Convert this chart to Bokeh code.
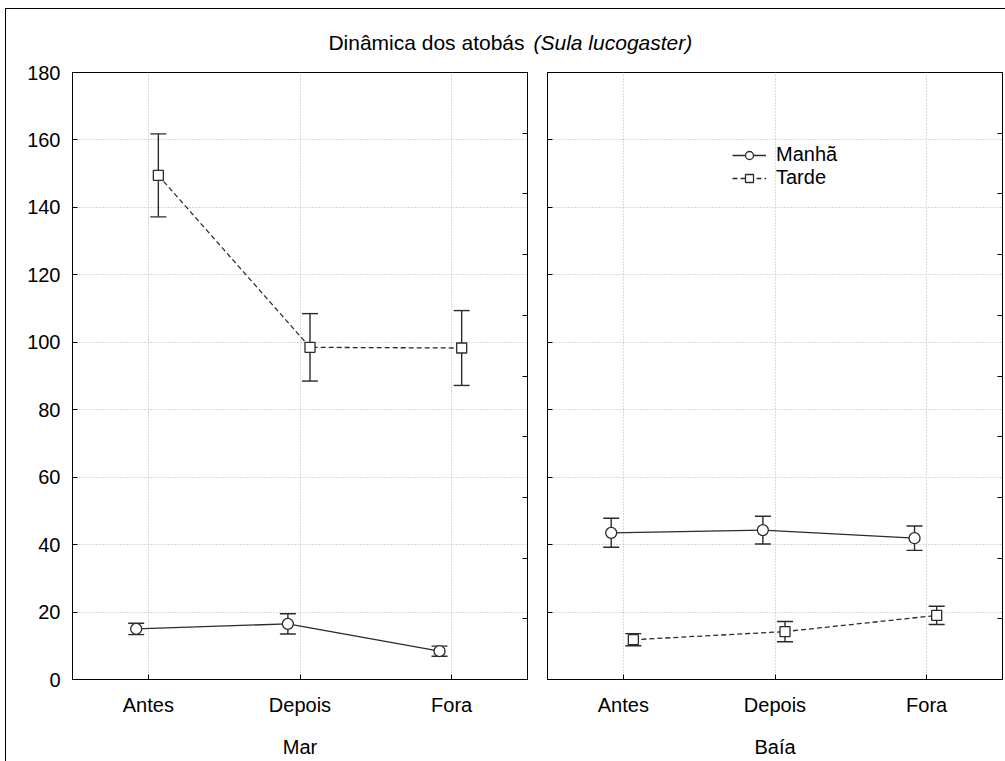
from bokeh.plotting import figure
from bokeh.models import (ColumnDataSource, Range1d, FactorRange, Whisker, TeeHead,
                          Title, Legend, LegendItem, LinearAxis, FixedTicker)
from bokeh.transform import dodge
from bokeh.layouts import row
from bokeh.embed import file_html
from bokeh.resources import INLINE

# Counts of boobies per period, mean and standard error
categories = ["Antes", "Depois", "Fora"]
panel_names = ["Mar", "Baía"]

mar_manha = [15.0, 16.5, 8.4]
mar_manha_se = [1.7, 3.0, 1.5]
mar_tarde = [149.5, 98.5, 98.3]
mar_tarde_se = [12.3, 10.0, 11.1]

baia_manha = [43.5, 44.3, 41.9]
baia_manha_se = [4.3, 4.1, 3.6]
baia_tarde = [11.8, 14.2, 19.0]
baia_tarde_se = [1.8, 3.0, 2.7]

y_ticks = [0, 20, 40, 60, 80, 100, 120, 140, 160, 180]
right_ticks = [0, 1, 2, 3, 4, 5, 6, 7, 8, 9, 10]

FONT = "Liberation Sans"
FS = "20px"
OFF_MANHA = -0.08
OFF_TARDE = 0.066
LINE_COL = "#2b2b2b"


def hide_labels(axis):
    axis.major_label_text_font_size = "1px"
    axis.major_label_text_color = None
    axis.major_label_standoff = 0


def make_panel(name, manha, manha_se, tarde, tarde_se, width, border_left, first):
    p = figure(x_range=FactorRange(*categories), y_range=Range1d(0, 180),
               width=width, height=752, min_border_left=border_left,
               min_border_right=3, min_border_top=63, min_border_bottom=82,
               output_backend="svg", toolbar_location=None, tools="")
    p.outline_line_color = "black"
    p.outline_line_width = 1
    p.background_fill_color = "white"
    p.border_fill_color = "white"

    # axes
    xa = p.xaxis[0]
    xa.axis_label = name
    xa.axis_label_text_font = FONT
    xa.axis_label_text_font_size = FS
    xa.axis_label_text_font_style = "normal"
    xa.axis_label_text_color = "black"
    xa.axis_label_standoff = 17
    xa.major_label_text_font = FONT
    xa.major_label_text_font_size = FS
    xa.major_label_text_color = "black"
    xa.major_label_standoff = 14
    xa.major_tick_in = 5
    xa.major_tick_out = 0
    xa.axis_line_color = "black"
    xa.major_tick_line_color = "black"

    ya = p.yaxis[0]
    ya.ticker = FixedTicker(ticks=y_ticks)
    ya.minor_tick_line_color = None
    ya.major_tick_in = 5
    ya.major_tick_out = 0
    ya.axis_line_color = "black"
    ya.major_tick_line_color = "black"
    ya.major_label_text_font = FONT
    ya.major_label_text_color = "black"
    if first:
        ya.major_label_text_font_size = FS
        ya.major_label_standoff = 12
    else:
        hide_labels(ya)

    # secondary scale ticks on the right edge
    p.extra_y_ranges = {"aux": Range1d(0, 10)}
    ra = LinearAxis(y_range_name="aux", ticker=FixedTicker(ticks=right_ticks))
    ra.major_tick_in = 5
    ra.major_tick_out = 0
    ra.minor_tick_line_color = None
    hide_labels(ra)
    ra.axis_line_color = "black"
    ra.major_tick_line_color = "black"
    p.add_layout(ra, "right")

    # grid
    p.ygrid.ticker = FixedTicker(ticks=y_ticks)
    for g in (p.xgrid[0], p.ygrid[0]):
        g.grid_line_color = "#b4b4b4"
        g.grid_line_dash = "1 2"
        g.grid_line_width = 1

    src_m = ColumnDataSource(dict(cat=categories, v=manha,
                                  lo=[v - e for v, e in zip(manha, manha_se)],
                                  hi=[v + e for v, e in zip(manha, manha_se)]))
    src_t = ColumnDataSource(dict(cat=categories, v=tarde,
                                  lo=[v - e for v, e in zip(tarde, tarde_se)],
                                  hi=[v + e for v, e in zip(tarde, tarde_se)]))

    xm = dodge("cat", OFF_MANHA, range=p.x_range)
    xt = dodge("cat", OFF_TARDE, range=p.x_range)

    for src, xx in ((src_m, xm), (src_t, xt)):
        w = Whisker(base=xx, upper="hi", lower="lo", source=src,
                    line_color=LINE_COL, line_width=1.4, level="underlay",
                    upper_head=TeeHead(size=16, line_color=LINE_COL, line_width=1.4),
                    lower_head=TeeHead(size=16, line_color=LINE_COL, line_width=1.4))
        p.add_layout(w)

    lm = p.line(x=xm, y="v", source=src_m, line_color=LINE_COL, line_width=1.3)
    lt = p.line(x=xt, y="v", source=src_t, line_color=LINE_COL, line_width=1.3,
                line_dash="5 3")
    sm = p.scatter(x=xm, y="v", source=src_m, marker="circle", size=11,
                   fill_color="white", line_color=LINE_COL, line_width=1.3)
    st = p.scatter(x=xt, y="v", source=src_t, marker="square", size=10,
                   fill_color="white", line_color=LINE_COL, line_width=1.3)
    return p, (lm, sm), (lt, st)


left, _, _ = make_panel(panel_names[0], mar_manha, mar_manha_se, mar_tarde, mar_tarde_se,
                        524, 66, True)
right, rm, rt = make_panel(panel_names[1], baia_manha, baia_manha_se, baia_tarde,
                           baia_tarde_se, 475, 17, False)

# title split across the two panels: plain part and italic species name
left.add_layout(Title(text="Dinâmica dos atobás", align="right", offset=3,
                      standoff=37, text_font=FONT, text_font_size="21px",
                      text_font_style="normal", text_color="black"), "above")
right.add_layout(Title(text="(Sula lucogaster)", align="left", offset=-14,
                       standoff=37, text_font=FONT, text_font_size="21px",
                       text_font_style="italic", text_color="black"), "above")

legend = Legend(items=[LegendItem(label="Manhã", renderers=list(rm)),
                       LegendItem(label="Tarde", renderers=list(rt))],
                location=(185, 490), orientation="vertical",
                glyph_width=34, glyph_height=20, label_height=20,
                label_standoff=10, spacing=0, padding=0, margin=0,
                border_line_color=None, background_fill_alpha=0,
                label_text_font=FONT, label_text_font_size=FS,
                label_text_color="black")
right.add_layout(legend, "center")

layout = row(left, right, spacing=0,
             styles={"border-left": "1px solid black", "border-top": "1px solid black",
                     "margin-left": "5px", "margin-top": "8px"})

open("out.html", "w").write(file_html(layout, INLINE))
